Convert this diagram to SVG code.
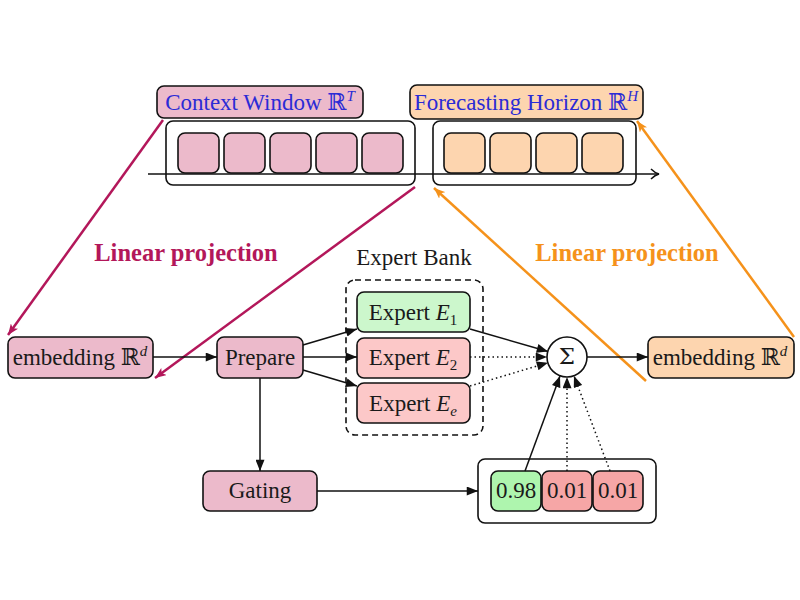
<svg xmlns="http://www.w3.org/2000/svg" width="800" height="600" viewBox="0 0 800 600">
<defs>
<style>
.t{font-family:"Liberation Serif","DejaVu Serif",serif;font-size:23px;fill:#1a1a1a;text-anchor:middle}
.m{font-family:"DejaVu Serif","Liberation Serif",serif}
.blue{fill:#2b2bd6}
.lp{font-family:"Liberation Serif","DejaVu Serif",serif;font-size:24.5px;font-weight:bold;text-anchor:middle}
.box{stroke:#111;stroke-width:1.6}
.pink{fill:#ecbacb}
.peach{fill:#fdd5af}
.green{fill:#ccf7cc}
.green2{fill:#aef5ae}
.red{fill:#fcc8c8}
.red2{fill:#f6a6a6}
.wire{stroke:#111;stroke-width:1.5;fill:none}
.dot{stroke:#111;stroke-width:1.5;fill:none;stroke-dasharray:1.5 3}
.cr{stroke:#b3175a;stroke-width:2.5;fill:none}
.or{stroke:#f5921b;stroke-width:2.5;fill:none}
</style>
<marker id="ah" viewBox="0 0 10 8" refX="10" refY="4" markerWidth="12" markerHeight="9" markerUnits="userSpaceOnUse" orient="auto"><path d="M0,0 L10,4 L0,8 z" fill="#111"/></marker>
<marker id="ahc" viewBox="0 0 10 8" refX="10" refY="4" markerWidth="11" markerHeight="9" markerUnits="userSpaceOnUse" orient="auto"><path d="M0,0 L10,4 L0,8 L2.5,4 z" fill="#b3175a"/></marker>
<marker id="aho" viewBox="0 0 10 8" refX="10" refY="4" markerWidth="11" markerHeight="9" markerUnits="userSpaceOnUse" orient="auto"><path d="M0,0 L10,4 L0,8 L2.5,4 z" fill="#f5921b"/></marker>
<marker id="open" viewBox="0 0 10 12" refX="9" refY="6" markerWidth="10" markerHeight="12" markerUnits="userSpaceOnUse" orient="auto"><path d="M1,1 Q5,5 9,6 Q5,7 1,11" fill="none" stroke="#111" stroke-width="1.5"/></marker>
</defs>
<rect width="800" height="600" fill="#fff"/>

<g id="context-window">
<rect class="box" x="166" y="121" width="249" height="64" rx="7" fill="#fff"/>
<rect class="box pink" x="178" y="133" width="41" height="40" rx="7"/>
<rect class="box pink" x="224" y="133" width="41" height="40" rx="7"/>
<rect class="box pink" x="270" y="133" width="41" height="40" rx="7"/>
<rect class="box pink" x="316" y="133" width="41" height="40" rx="7"/>
<rect class="box pink" x="362" y="133" width="41" height="40" rx="7"/>
</g>
<g id="forecast-window">
<rect class="box" x="433" y="121" width="203" height="64" rx="7" fill="#fff"/>
<rect class="box peach" x="444" y="133" width="41" height="40" rx="7"/>
<rect class="box peach" x="490" y="133" width="41" height="40" rx="7"/>
<rect class="box peach" x="536" y="133" width="41" height="40" rx="7"/>
<rect class="box peach" x="582" y="133" width="41" height="40" rx="7"/>
</g>
<g id="context-label">
<rect class="box pink" x="157" y="86" width="206" height="32" rx="7"/>
<text class="t blue" x="260" y="110">Context Window <tspan class="m">ℝ</tspan><tspan font-size="15" font-style="italic" dy="-9">T</tspan></text>
</g>
<g id="horizon-label">
<rect class="box peach" x="410" y="85" width="233" height="34" rx="7"/>
<text class="t blue" x="526" y="110">Forecasting Horizon <tspan class="m">ℝ</tspan><tspan font-size="15" font-style="italic" dy="-9">H</tspan></text>
</g>

<g id="expert-bank">
<rect x="346" y="280" width="137" height="155" rx="9" fill="none" stroke="#111" stroke-width="1.6" stroke-dasharray="6 4"/>
<text class="t" x="414" y="265">Expert Bank</text>
</g>
<g id="embedding-in">
<rect class="box pink" x="8" y="337" width="145" height="41" rx="7"/>
<text class="t" x="80" y="365">embedding <tspan class="m">ℝ</tspan><tspan font-size="15" font-style="italic" dy="-9">d</tspan></text>
</g>
<g id="prepare">
<rect class="box pink" x="217" y="337" width="86" height="41" rx="7"/>
<text class="t" x="260" y="365">Prepare</text>
</g>
<g id="expert1">
<rect class="box green" x="357" y="292" width="113" height="40" rx="7"/>
<text class="t" x="413" y="320">Expert <tspan font-style="italic">E</tspan><tspan font-size="15" dy="5">1</tspan></text>
</g>
<g id="expert2">
<rect class="box red" x="357" y="338" width="113" height="40" rx="7"/>
<text class="t" x="413" y="365">Expert <tspan font-style="italic">E</tspan><tspan font-size="15" dy="5">2</tspan></text>
</g>
<g id="experte">
<rect class="box red" x="357" y="383" width="113" height="40" rx="7"/>
<text class="t" x="413" y="411">Expert <tspan font-style="italic">E</tspan><tspan font-size="15" font-style="italic" dy="5">e</tspan></text>
</g>
<g id="sum">
<circle class="box" cx="567" cy="357" r="20" fill="#fff"/>
<text class="t m" x="567" y="364" font-size="20">Σ</text>
</g>
<g id="embedding-out">
<rect class="box peach" x="648" y="337" width="146" height="41" rx="7"/>
<text class="t" x="720" y="365">embedding <tspan class="m">ℝ</tspan><tspan font-size="15" font-style="italic" dy="-9">d</tspan></text>
</g>
<g id="gating">
<rect class="box pink" x="203" y="471" width="114" height="40" rx="7"/>
<text class="t" x="260" y="498">Gating</text>
</g>
<g id="weights">
<rect class="box" x="478" y="459" width="178" height="64" rx="7" fill="#fff"/>
<rect class="box green2" x="491" y="471" width="50" height="40" rx="7"/>
<text class="t" x="516" y="498">0.98</text>
<rect class="box red2" x="542" y="471" width="50" height="40" rx="7"/>
<text class="t" x="567" y="498">0.01</text>
<rect class="box red2" x="593" y="471" width="50" height="40" rx="7"/>
<text class="t" x="618" y="498">0.01</text>
</g>

<g id="labels">
<text class="lp" x="186" y="261" fill="#b3175a">Linear projection</text>
<text class="lp" x="627" y="261" fill="#f5921b">Linear projection</text>
</g>

<g id="connectors">
<line class="wire" x1="148" y1="174" x2="659" y2="174" marker-end="url(#open)"/>
<line class="cr" x1="163" y1="120" x2="8" y2="335" marker-end="url(#ahc)"/>
<line class="cr" x1="415" y1="187" x2="155" y2="378" marker-end="url(#ahc)"/>
<line class="or" x1="794" y1="337" x2="637" y2="121" marker-end="url(#aho)"/>
<line class="or" x1="646" y1="381" x2="434" y2="188" marker-end="url(#aho)"/>
<line class="wire" x1="153" y1="357" x2="217" y2="357" marker-end="url(#ah)"/>
<line class="wire" x1="303" y1="345" x2="357" y2="329" marker-end="url(#ah)"/>
<line class="wire" x1="303" y1="357" x2="357" y2="357" marker-end="url(#ah)"/>
<line class="wire" x1="303" y1="370" x2="357" y2="386" marker-end="url(#ah)"/>
<line class="wire" x1="470" y1="329" x2="548" y2="351.5" marker-end="url(#ah)"/>
<line class="dot" x1="470" y1="357" x2="547" y2="357" marker-end="url(#ah)"/>
<line class="dot" x1="470" y1="386" x2="548" y2="362.7" marker-end="url(#ah)"/>
<line class="wire" x1="587" y1="357" x2="648" y2="357" marker-end="url(#ah)"/>
<line class="wire" x1="260" y1="378" x2="260" y2="471" marker-end="url(#ah)"/>
<line class="wire" x1="317" y1="491" x2="478" y2="491" marker-end="url(#ah)"/>
<line class="wire" x1="525" y1="471" x2="560" y2="376" marker-end="url(#ah)"/>
<line class="dot" x1="567" y1="471" x2="567" y2="377" marker-end="url(#ah)"/>
<line class="dot" x1="610" y1="471" x2="574" y2="376" marker-end="url(#ah)"/>
</g>
</svg>
